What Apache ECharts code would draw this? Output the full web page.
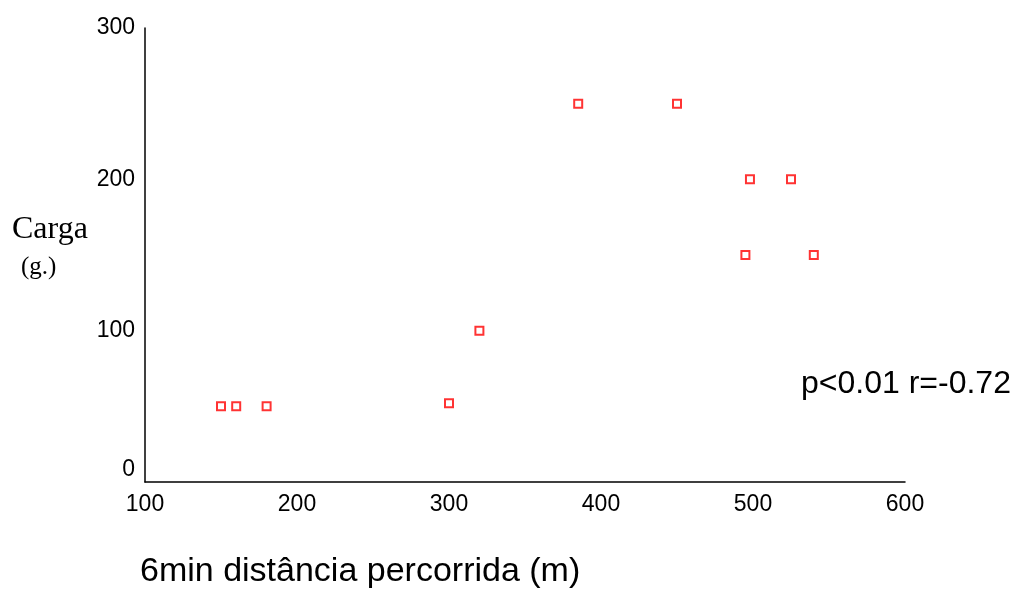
<!DOCTYPE html>
<html>
<head>
<meta charset="utf-8">
<script src="https://cdn.jsdelivr.net/npm/echarts@6/dist/echarts.min.js"></script>
<style>
  html, body { margin: 0; padding: 0; background: #fff; }
  #chart { width: 1016px; height: 594px; }
</style>
</head>
<body>
<div id="chart"></div>
<script>
// distance walked in 6 min (m) vs load (g)
var distance = [150, 160, 180, 300, 320, 385, 450, 498, 525, 495, 540];
var carga    = [50,  50,  50,  52,  100, 250, 250, 200, 200, 150, 150];
var xTicks = [100, 200, 300, 400, 500, 600];
var yTicks = [0, 100, 200, 300];

var points = distance.map(function (d, i) { return [d, carga[i]]; });

var myChart = echarts.init(document.getElementById('chart'));

var option = {
  backgroundColor: '#fff',
  animation: false,
  grid: { left: 145, right: 111, top: 28, bottom: 112 },
  xAxis: {
    type: 'value',
    min: xTicks[0], max: xTicks[xTicks.length - 1], interval: 100,
    axisLine: { lineStyle: { color: '#000', width: 1.5 } },
    axisTick: { show: false },
    splitLine: { show: false },
    axisLabel: { color: '#000', fontSize: 23, fontFamily: 'Liberation Sans', margin: 11 }
  },
  yAxis: {
    type: 'value',
    min: yTicks[0], max: yTicks[yTicks.length - 1], interval: 100,
    axisLine: { show: true, lineStyle: { color: '#000', width: 1.5 } },
    axisTick: { show: false },
    splitLine: { show: false },
    axisLabel: {
      color: '#000', fontSize: 23, fontFamily: 'Liberation Sans', margin: 10,
      formatter: function (v) { return v === 0 ? '{z|0}' : String(v); },
      rich: { z: { fontSize: 23, fontFamily: 'Liberation Sans', color: '#000', padding: [0, 0, 24, 0] } }
    }
  },
  series: [{
    type: 'scatter',
    data: points,
    symbol: 'rect',
    symbolSize: 8,
    itemStyle: { color: '#fff', borderColor: '#ff0000', borderWidth: 2 }
  }],
  graphic: [
    { type: 'text', left: 12, top: 214,
      style: { text: 'Carga', fontSize: 32, fontFamily: 'Liberation Serif', fill: '#000' } },
    { type: 'text', left: 21, top: 255,
      style: { text: '(g.)', fontSize: 25, fontFamily: 'Liberation Serif', fill: '#000' } },
    { type: 'text', left: 801, top: 368,
      style: { text: 'p<0.01 r=-0.72', fontSize: 32, fontFamily: 'Liberation Sans', fill: '#000' } },
    { type: 'text', left: 140, top: 555,
      style: { text: '6min distância percorrida (m)', fontSize: 34, fontFamily: 'Liberation Sans', fill: '#000' } }
  ]
};

myChart.setOption(option);
window.onresize = function () { myChart.resize(); };
</script>
</body>
</html>
